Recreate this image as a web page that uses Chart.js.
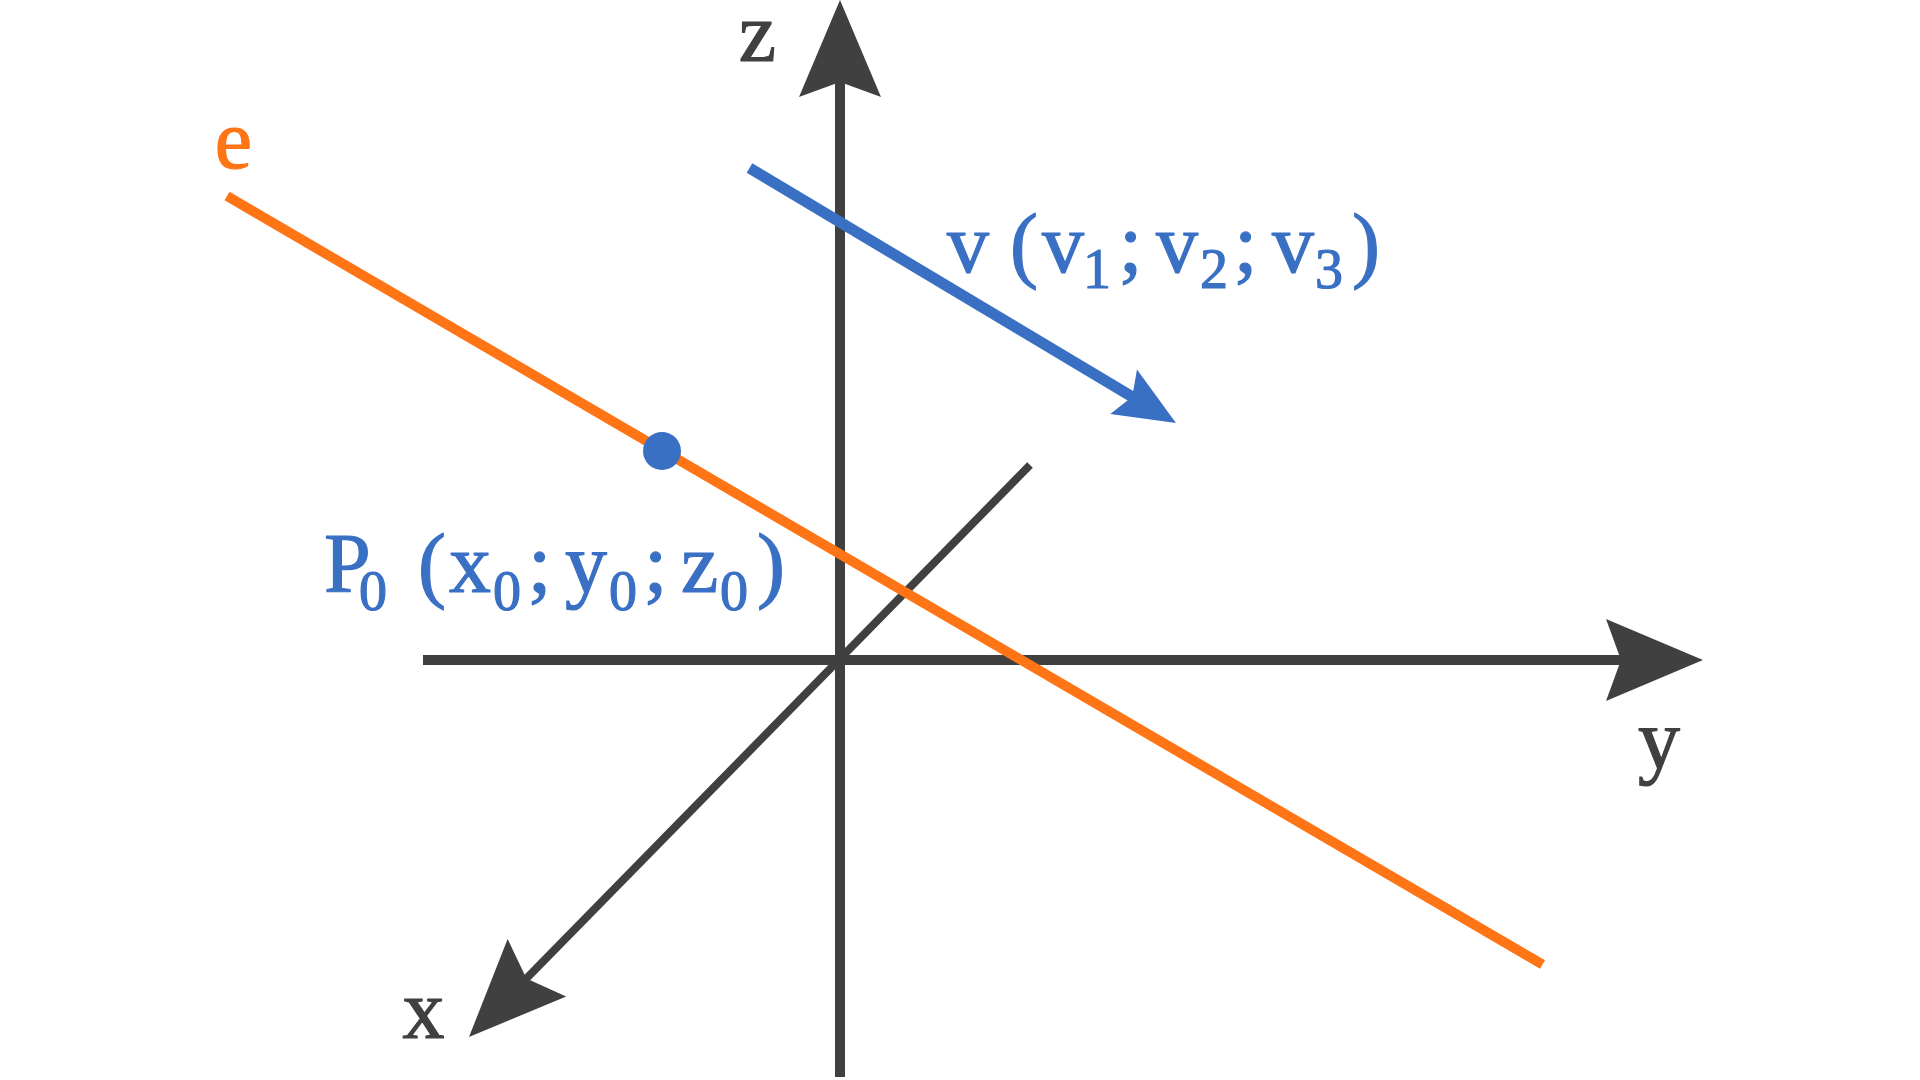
<!DOCTYPE html>
<html><head><meta charset="utf-8">
<style>html,body{margin:0;padding:0;background:#fff;overflow:hidden}canvas{display:block}</style>
<script src="https://cdn.jsdelivr.net/npm/chart.js@4.4.1/dist/chart.umd.min.js"></script>
</head><body>
<canvas id="c" width="1920" height="1080"></canvas>
<script>
// ---- Diagram data (units: origin at the axes intersection, y pointing up) ----
const zAxis   = [{x: 0, y: -41.7}, {x: 0, y: 66}];
const yAxis   = [{x: -41.7, y: 0}, {x: 86.3, y: 0}];
const xAxis   = [{x: 19, y: 19.5}, {x: -37.1, y: -37.7}];
const lineE   = [{x: -61.3, y: 46.4}, {x: 70.25, y: -30.45}];
const vectorV = [{x: -9.05, y: 49.2}, {x: 33.6, y: 23.7}];
const pointP0 = [{x: -17.8, y: 20.9}];

const axisNames = ['x', 'y', 'z'];
const axisNameAt = [{x: -41.65, y: -37.8}, {x: 81.9, y: -10.8}, {x: -8.25, y: 59.9}];
const lineName = 'e';
const lineNameAt = {x: -60.65, y: 49.2};
// [text, x-offset(px), subscript?]
const vectorLabel = [['v',0],['(',66],['v',95],['1',140,1],[';',176],['v',209],['2',255,1],[';',291],['v',325],['3',370,1],[')',407]];
const vectorLabelAt = {x: 10.7, y: 38.8};
const pointLabel = [['P',0],['0',35,1],['(',95],['x',123],['0',169,1],[';',206],['y',240],['0',285,1],[';',322],['z',357],['0',396,1],[')',433]];
const pointLabelAt = {x: -51.4, y: 6.8};

const GRAY = '#404040', ORANGE = '#FF7415', BLUE = '#3A70C4';
const FONT = '"Liberation Serif", "DejaVu Serif", serif';

const arrowPlugin = {
  id: 'arrowHeads',
  beforeDatasetDraw(chart, args) {
    const ds = chart.data.datasets[args.index];
    if (!ds.arrow) return;
    const pts = args.meta.data, n = pts.length;
    const a = pts[n - 2], b = pts[n - 1];
    const dx = b.x - a.x, dy = b.y - a.y, L = Math.hypot(dx, dy);
    const ux = dx / L, uy = dy / L, px = -uy, py = ux;
    const sx = b.x - ux * (ds.arrow.notch - 6), sy = b.y - uy * (ds.arrow.notch - 6);
    const M = 5000, ctx = chart.ctx;
    ctx.save();
    ctx.beginPath();
    ctx.moveTo(sx + px * M, sy + py * M);
    ctx.lineTo(sx - px * M, sy - py * M);
    ctx.lineTo(sx - px * M - ux * M, sy - py * M - uy * M);
    ctx.lineTo(sx + px * M - ux * M, sy + py * M - uy * M);
    ctx.closePath();
    ctx.clip();
  },
  afterDatasetDraw(chart, args) {
    const ds = chart.data.datasets[args.index];
    if (!ds.arrow) return;
    const ctx = chart.ctx;
    ctx.restore();
    const pts = args.meta.data, n = pts.length;
    const a = pts[n - 2], b = pts[n - 1];
    const dx = b.x - a.x, dy = b.y - a.y, L = Math.hypot(dx, dy);
    const ux = dx / L, uy = dy / L, px = -uy, py = ux;
    const {len, half, notch} = ds.arrow;
    const bx = b.x - ux * len, by = b.y - uy * len;
    ctx.save();
    ctx.fillStyle = ds.borderColor;
    ctx.beginPath();
    ctx.moveTo(b.x, b.y);
    ctx.lineTo(bx + px * half, by + py * half);
    ctx.lineTo(b.x - ux * notch, b.y - uy * notch);
    ctx.lineTo(bx - px * half, by - py * half);
    ctx.closePath();
    ctx.fill();
    ctx.restore();
  }
};

const labelPlugin = {
  id: 'diagramLabels',
  afterDraw(chart) {
    const ctx = chart.ctx, sx = chart.scales.x, sy = chart.scales.y;
    const P = p => [sx.getPixelForValue(p.x), sy.getPixelForValue(p.y)];
    const main = '84px ' + FONT, sub = '56px ' + FONT;
    const put = (t, x, y) => { ctx.strokeStyle = ctx.fillStyle; ctx.lineWidth = 1.2; ctx.fillText(t, x, y); ctx.strokeText(t, x, y); };
    ctx.save();
    ctx.textBaseline = 'alphabetic';
    ctx.textAlign = 'center';
    ctx.lineJoin = 'round';
    ctx.font = main;
    ctx.fillStyle = GRAY;
    axisNames.forEach((t, i) => { const [x, y] = P(axisNameAt[i]); put(t, x, y); });
    ctx.fillStyle = ORANGE;
    { const [x, y] = P(lineNameAt); put(lineName, x, y); }
    ctx.textAlign = 'left';
    const rich = (parts, at, subDrop) => {
      const [x0, y0] = P(at);
      parts.forEach(([t, off, isSub]) => {
        ctx.font = isSub ? sub : main;
        const m = ctx.measureText(t);
        put(t, x0 + off + m.actualBoundingBoxLeft, y0 + (isSub ? subDrop : 0));
      });
    };
    ctx.fillStyle = BLUE;
    rich(vectorLabel, vectorLabelAt, 16);
    rich(pointLabel, pointLabelAt, 18);
    ctx.restore();
  }
};

const lineDs = (data, color, width, extra) => Object.assign({
  data, showLine: true, borderColor: color, backgroundColor: color,
  borderWidth: width, pointRadius: 0, pointHoverRadius: 0, tension: 0,
  borderCapStyle: 'butt', fill: false
}, extra || {});

const axisArrow = {len: 97, half: 41, notch: 82};

new Chart(document.getElementById('c'), {
  type: 'scatter',
  data: {
    datasets: [
      {data: pointP0, pointRadius: 19, pointHoverRadius: 19, backgroundColor: BLUE, borderWidth: 0, showLine: false},
      lineDs(vectorV, BLUE, 11, {arrow: {len: 61, half: 26, notch: 51}}),
      lineDs(lineE, ORANGE, 10),
      lineDs(zAxis, GRAY, 10, {arrow: axisArrow}),
      lineDs(yAxis, GRAY, 10, {arrow: axisArrow}),
      lineDs(xAxis, GRAY, 8, {arrow: axisArrow})
    ]
  },
  options: {
    responsive: false, animation: false, devicePixelRatio: 1,
    layout: {padding: 0, autoPadding: false},
    plugins: {legend: {display: false}, tooltip: {enabled: false}},
    events: [],
    scales: {
      x: {type: 'linear', min: -84, max: 108, display: false},
      y: {type: 'linear', min: -42, max: 66, display: false}
    }
  },
  plugins: [arrowPlugin, labelPlugin]
});
</script>
</body></html>
